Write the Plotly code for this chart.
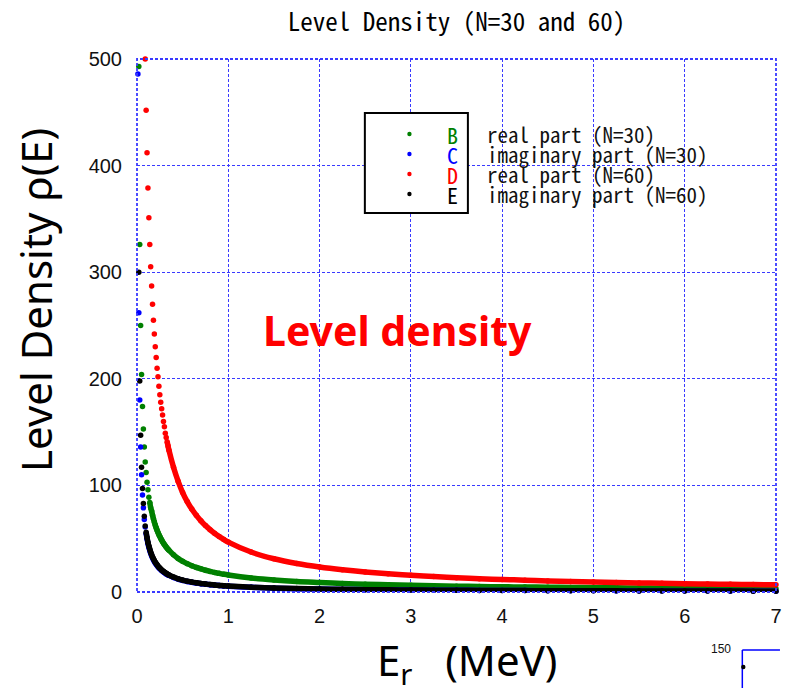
import plotly.graph_objects as go

# ---------------- data ----------------
E = [0.01, 0.02, 0.03, 0.04, 0.05, 0.06, 0.07, 0.08, 0.09, 0.10,
     0.11, 0.12, 0.13, 0.14, 0.15, 0.16, 0.17, 0.18, 0.19, 0.20,
     0.21, 0.22, 0.23, 0.24, 0.25, 0.26, 0.27, 0.28, 0.29, 0.30,
     0.31, 0.32, 0.33, 0.34, 0.35,
     0.40, 0.45, 0.50, 0.55, 0.60, 0.65, 0.70, 0.75, 0.80, 0.85, 0.90, 0.95, 1.00,
     1.25, 1.50, 1.75, 2.00, 2.25, 2.50, 2.75, 3.00, 3.25, 3.50, 3.75, 4.00,
     4.25, 4.50, 4.75, 5.00, 5.25, 5.50, 5.75, 6.00, 6.25, 6.50, 6.75, 7.00]

real_n30 = [None, 493, 326, 250, 204, 174, 153, 136, 122, 112,
            103, 96, 89, 84, 79, 76, 72.1, 68.7, 65.6, 62.8,
            60.3, 58.0, 55.8, 53.8, 52.0, 50.3, 48.7, 47.2, 45.8, 44.5,
            43.3, 42.1, 41.1, 40.0, 39.1,
            34.9, 31.5, 28.8, 26.6, 24.7, 23.1, 21.7, 20.4, 19.3, 18.4, 17.5, 16.7, 16.0,
            13.2, 11.3, 9.9, 8.9, 8.0, 7.3, 6.8, 6.3, 5.9, 5.5, 5.2, 4.9,
            4.7, 4.5, 4.3, 4.1, 3.9, 3.8, 3.6, 3.5, 3.4, 3.3, 3.2, 3.1]

imag_n30 = [486, 262, 180, 136, 110, 91, 79, 68, 61, 55,
            50, 45.5, 41.9, 38.9, 36.3, 34.1, 32.1, 30.3, 28.7, 27.3,
            26.0, 24.8, 23.7, 22.7, 21.8, 21.0, 20.2, 19.5, 18.8, 18.2,
            17.6, 17.0, 16.5, 16.0, 15.6,
            13.6, 12.1, 10.9, 9.9, 9.1, 8.4, 7.8, 7.3, 6.8, 6.4, 6.1, 5.7, 5.5,
            4.4, 3.6, 3.1, 2.7, 2.4, 2.2, 2.0, 1.8, 1.7, 1.6, 1.5, 1.4,
            1.3, 1.2, 1.1, 1.1, 1.0, 1.0, 0.9, 0.9, 0.9, 0.8, 0.8, 0.8]

real_n60 = [None, None, None, None, None, None, None, None, 500, 452,
            412, 379, 351, 326, 305, 287, 270, 255, 242, 230,
            220, 210, 202, 193, 185, 178, 172, 166, 160, 155,
            149, 145, 141, 137, 133,
            117, 104, 93.3, 84.8, 77.8, 71.9, 66.8, 62.3, 58.5, 55.0, 52.0, 49.3, 46.8,
            37.5, 31.2, 26.8, 23.5, 20.9, 18.8, 17.1, 15.7, 14.5, 13.4, 12.5, 11.7,
            11.1, 10.4, 9.9, 9.4, 9.0, 8.5, 8.2, 7.8, 7.5, 7.2, 7.0, 6.7]

imag_n60 = [None, 300, 198, 147, 117, 97, 83, 71, 62, 56,
            51, 46.5, 43.1, 40.0, 37.3, 35.0, 32.9, 31.1, 29.5, 28.0,
            26.7, 25.5, 24.3, 23.3, 22.4, 21.5, 20.7, 20.0, 19.3, 18.7,
            18.1, 17.5, 17.0, 16.5, 16.0,
            14.0, 12.4, 11.2, 10.2, 9.3, 8.6, 8.0, 7.5, 7.0, 6.6, 6.2, 5.9, 5.6,
            4.5, 3.7, 3.2, 2.8, 2.5, 2.2, 2.0, 1.9, 1.7, 1.6, 1.5, 1.4,
            1.3, 1.2, 1.2, 1.1, 1.1, 1.0, 1.0, 0.9, 0.9, 0.9, 0.8, 0.8]

series_letters = ["B", "C", "D", "E"]
series_names = ["real part (N=30)", "imaginary part (N=30)",
                "real part (N=60)", "imaginary part (N=60)"]
series_values = [real_n30, imag_n30, real_n60, imag_n60]
series_colors = ["#008000", "#0000ff", "#ff0000", "#000000"]
# index from which the dots are dense enough to form a continuous band
band_start = [13, 9, 32, 9]

x_ticks = [0, 1, 2, 3, 4, 5, 6, 7]
y_ticks = [0, 100, 200, 300, 400, 500]

# ---------------- layout geometry ----------------
W, H = 786, 688
L, R, T, B = 137, 782, 59, 592


def px(x):
    return (x - L) / (R - L)


def py(y):
    return (B - y) / (B - T)


MONO = "Noto Sans Mono CJK JP, Noto Sans CJK JP, DejaVu Sans Mono, monospace"
SANS = "Liberation Sans, Arial, sans-serif"
UI = "Noto Sans, Open Sans, sans-serif"
MS = 5.5
GRIDC = "#3a3aff"

fig = go.Figure()
for vals, col, s in zip(series_values, series_colors, band_start):
    fig.add_trace(go.Scatter(
        x=E[s:], y=vals[s:], mode="lines", line=dict(color=col, width=MS, shape="spline"),
        hoverinfo="skip", showlegend=False, cliponaxis=False))
    fig.add_trace(go.Scatter(
        x=E, y=vals, mode="markers", marker=dict(color=col, size=MS, line=dict(width=0)),
        showlegend=False, cliponaxis=False))

grid = dict(showgrid=True, gridcolor=GRIDC, gridwidth=1.2, griddash="3px,2px",
            zeroline=False, showline=False, ticks="", ticklabeloverflow="allow",
            tickfont=dict(family=SANS, size=20, color="#111"))

fig.update_xaxes(range=[0, 7], tickvals=x_ticks, ticktext=[str(v) for v in x_ticks],
                 ticklabelstandoff=10, **grid)
fig.update_yaxes(range=[0, 500], tickvals=y_ticks, ticktext=[str(v) for v in y_ticks],
                 ticklabelstandoff=14, **grid)

shapes = []
# dashed blue frame of the plot area
shapes.append(dict(type="rect", xref="x domain", yref="y domain", x0=0, x1=1, y0=0, y1=1,
                   line=dict(color=GRIDC, width=1.8, dash="3px,2px"), layer="above"))
# legend box
shapes.append(dict(type="rect", xref="paper", yref="paper", x0=px(367), x1=px(471),
                   y0=py(213), y1=py(113), line=dict(color="black", width=2),
                   fillcolor="white", layer="above"))
rows = [134, 154, 174, 194]
annotations = []
for r_, col, let, name in zip(rows, series_colors, series_letters, series_names):
    shapes.append(dict(type="circle", xref="paper", yref="paper", xsizemode="pixel",
                       ysizemode="pixel", xanchor=px(412), yanchor=py(r_),
                       x0=-2.2, x1=2.2, y0=-2.2, y1=2.2, fillcolor=col,
                       line=dict(width=0), layer="above"))
    annotations.append(dict(xref="paper", yref="paper", x=px(455), y=py(r_), text=let,
                            showarrow=False, xanchor="center", yanchor="middle",
                            font=dict(family=MONO, size=22, color=col)))
    annotations.append(dict(xref="paper", yref="paper", x=px(488), y=py(r_), text=name,
                            showarrow=False, xanchor="left", yanchor="middle",
                            align="left",
                            font=dict(family=MONO, size=21, color="#111")))

# axis titles
annotations.append(dict(xref="paper", yref="paper", x=px(34), y=py(300),
                        text="Level Density ρ(E)", textangle=-90, showarrow=False,
                        xanchor="center", yanchor="middle",
                        font=dict(family=UI, size=42, color="black")))
annotations.append(dict(xref="paper", yref="paper", x=px(470), y=py(662),
                        text="E<sub>r</sub>\u00a0\u00a0\u00a0(MeV)", showarrow=False,
                        xanchor="center", yanchor="middle",
                        font=dict(family=UI, size=42, color="black")))
# in-plot label
annotations.append(dict(xref="x", yref="y", x=1.36, y=246, text="<b>Level density</b>",
                        showarrow=False, xanchor="left", yanchor="middle",
                        font=dict(family=UI, size=41, color="#ff0000")))

# cropped fragment of a neighbouring chart, bottom right
annotations.append(dict(xref="paper", yref="paper", x=px(726), y=py(649), text="150",
                        showarrow=False, xanchor="center", yanchor="middle",
                        font=dict(family=SANS, size=12, color="#111")))
shapes.append(dict(type="line", xref="paper", yref="paper", x0=px(748), x1=px(786),
                   y0=py(650), y1=py(650), line=dict(color="blue", width=1.5)))
shapes.append(dict(type="line", xref="paper", yref="paper", x0=px(748), x1=px(748),
                   y0=py(650), y1=py(688), line=dict(color="blue", width=1.5)))
shapes.append(dict(type="circle", xref="paper", yref="paper", xsizemode="pixel",
                   ysizemode="pixel", xanchor=px(749), yanchor=py(667),
                   x0=-2.2, x1=2.2, y0=-2.2, y1=2.2, fillcolor="black", line=dict(width=0)))

fig.update_layout(
    width=W, height=H,
    margin=dict(l=L, r=W - R, t=T, b=H - B),
    paper_bgcolor="white", plot_bgcolor="white",
    title=dict(text="Level Density (N=30 and 60)", x=0.5, xref="paper", xanchor="center",
               y=1 - 22 / H, yref="container", yanchor="middle",
               font=dict(family=MONO, size=25, color="black")),
    shapes=shapes, annotations=annotations, showlegend=False,
)

fig.write_html("out.html")
